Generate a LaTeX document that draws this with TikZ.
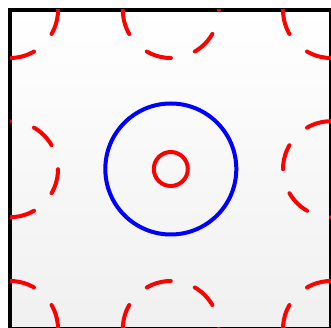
\documentclass[tikz,border=0pt]{standalone}
\definecolor{bgbottom}{RGB}{240,240,240}
\begin{document}
\begin{tikzpicture}[x=1pt,y=1pt,
  frame/.style={black, line width=4pt},
  dcirc/.style={red, line width=4pt, line cap=round, dash pattern=on 25.13pt off 25.13pt},
  dcircb/.style={dcirc, dash phase=25.13pt},
  ring/.style={blue, line width=4pt},
  core/.style={red, line width=4pt}]
\useasboundingbox (0,0) rectangle (331,328);
\coordinate (sw) at (10,-1);
\coordinate (ne) at (331,318);
\coordinate (tl) at (10,318);
\coordinate (tm) at (170.8,318);
\coordinate (tr) at (331,318);
\coordinate (ml) at (10,158.8);
\coordinate (mr) at (331,158.8);
\coordinate (bl) at (10,-1);
\coordinate (bm) at (170.8,-1);
\coordinate (br) at (331,-1);
\coordinate (c) at (170.8,159);
\shade[top color=white, bottom color=bgbottom] (sw) rectangle (ne);
\draw[frame] (sw) rectangle (ne);
\begin{scope}
\clip (sw) rectangle (ne);
\draw[dcirc] (tm) circle[radius=48];
\draw[dcirc] (tr) circle[radius=48];
\draw[dcirc] (bl) circle[radius=48];
\draw[dcircb] (tl) circle[radius=48];
\draw[dcircb] (ml) circle[radius=48];
\draw[dcircb] (mr) circle[radius=48];
\draw[dcircb] (bm) circle[radius=48];
\draw[dcircb] (br) circle[radius=48];
\end{scope}
\draw[ring] (c) circle[radius=65.5];
\draw[core] (c) circle[radius=17];
\end{tikzpicture}
\end{document}
